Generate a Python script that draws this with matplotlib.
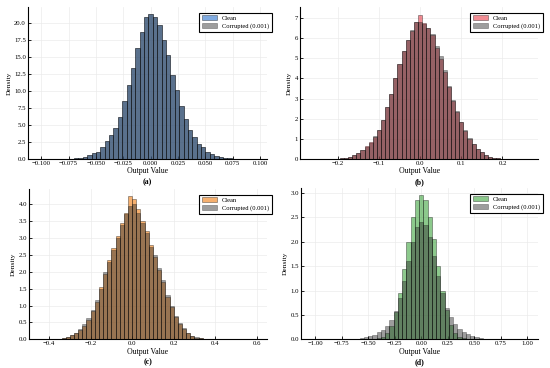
import numpy as np
import matplotlib
matplotlib.use("Agg")
import matplotlib.pyplot as plt

plt.rcParams["font.family"] = ["Liberation Serif", "DejaVu Serif"]

# (a) bins start/width and densities
a_start, a_width = -0.084, 0.004
a_clean = [0.01, 0.02, 0.04, 0.07, 0.12, 0.2, 0.3, 0.55, 0.85, 1.1, 1.8, 2.6, 3.6, 4.6,
           6.2, 8.5, 10.9, 13.4, 16.3, 18.7, 20.9, 21.3, 20.9, 19.8, 17.5, 15.3, 12.4,
           10.1, 7.8, 5.9, 4.2, 3.2, 2.2, 1.7, 1.0, 0.75, 0.45, 0.28, 0.16, 0.09, 0.05,
           0.02, 0.01]
a_corr = [0.01, 0.02, 0.04, 0.07, 0.12, 0.2, 0.3, 0.55, 0.85, 1.1, 1.8, 2.6, 3.6, 4.6,
          6.2, 8.5, 10.9, 13.4, 16.3, 18.7, 20.9, 21.3, 20.9, 19.8, 17.5, 15.3, 12.4,
          10.1, 7.8, 5.9, 4.2, 3.2, 2.2, 1.7, 1.0, 0.75, 0.45, 0.28, 0.16, 0.09, 0.05,
          0.02, 0.01]

# (b)
b_start, b_width = -0.21, 0.01
b_clean = [0.01, 0.02, 0.04, 0.07, 0.12, 0.2, 0.3, 0.45, 0.62, 0.82, 1.1, 1.45, 1.95,
           2.6, 3.25, 4.0, 4.7, 5.35, 5.9, 6.35, 6.8, 7.15, 6.75, 6.5, 6.15, 5.5, 4.95,
           4.3, 3.6, 2.9, 2.35, 1.85, 1.4, 1.0, 0.72, 0.5, 0.33, 0.2, 0.12, 0.07, 0.04,
           0.02, 0.01]
b_corr = [0.01, 0.02, 0.04, 0.07, 0.12, 0.2, 0.3, 0.43, 0.58, 0.78, 1.12, 1.45, 1.95,
          2.6, 3.25, 4.0, 4.7, 5.35, 5.9, 6.4, 6.8, 6.8, 6.7, 6.5, 6.2, 5.6, 5.1,
          4.4, 3.65, 2.95, 2.4, 1.85, 1.42, 1.02, 0.74, 0.5, 0.34, 0.2, 0.12, 0.07, 0.04,
          0.02, 0.01]

# (c)
c_start, c_width = -0.37, 0.02
c_clean = [0.01, 0.02, 0.04, 0.07, 0.12, 0.18, 0.27, 0.4, 0.58, 0.85, 1.1, 1.55, 1.95,
           2.35, 2.7, 3.05, 3.45, 3.75, 4.25, 4.15, 3.85, 3.5, 3.2, 2.8, 2.45, 2.05,
           1.7, 1.25, 0.95, 0.67, 0.45, 0.3, 0.18, 0.1, 0.05, 0.03, 0.01, 0.005]
c_corr = [0.01, 0.02, 0.05, 0.08, 0.13, 0.2, 0.3, 0.45, 0.62, 0.88, 1.15, 1.5, 2.0,
          2.3, 2.65, 3.0, 3.4, 3.7, 3.95, 4.02, 3.75, 3.45, 3.15, 2.75, 2.5, 2.1,
          1.75, 1.3, 1.0, 0.7, 0.48, 0.32, 0.2, 0.11, 0.06, 0.03, 0.015, 0.005]

# (d)
d_start, d_width = -0.60, 0.04
d_clean = [0, 0, 0, 0, 0, 0.02, 0.05, 0.12, 0.28, 0.55, 0.95, 1.45, 2.0, 2.5, 2.85,
           2.95, 2.85, 2.5, 2.05, 1.5, 1.0, 0.6, 0.3, 0.13, 0.05, 0.02, 0, 0, 0, 0, 0]
d_corr = [0.01, 0.02, 0.04, 0.06, 0.09, 0.14, 0.2, 0.28, 0.4, 0.58, 0.85, 1.2, 1.6,
          2.0, 2.3, 2.4, 2.35, 2.1, 1.7, 1.3, 0.95, 0.65, 0.45, 0.32, 0.22, 0.15, 0.1,
          0.06, 0.04, 0.02, 0.01]

panels = [
    dict(start=a_start, width=a_width, clean=a_clean, corr=a_corr, color="#2a72cc",
         xlim=(-0.112, 0.106), ylim=(0, 22.4),
         xticks=[-0.1, -0.075, -0.05, -0.025, 0, 0.025, 0.05, 0.075, 0.1], xfmt="{:.3f}",
         yticks=[0, 2.5, 5, 7.5, 10, 12.5, 15, 17.5, 20], yfmt="{:.1f}",
         pos=[0.051, 0.568, 0.434, 0.413], tag="(a)"),
    dict(start=b_start, width=b_width, clean=b_clean, corr=b_corr, color="#e8404c",
         xlim=(-0.291, 0.286), ylim=(0, 7.55),
         xticks=[-0.2, -0.1, 0, 0.1, 0.2], xfmt="{:.1f}",
         yticks=[0, 1, 2, 3, 4, 5, 6, 7], yfmt="{:.0f}",
         pos=[0.546, 0.568, 0.432, 0.413], tag="(b)"),
    dict(start=c_start, width=c_width, clean=c_clean, corr=c_corr, color="#f07c10",
         xlim=(-0.496, 0.648), ylim=(0, 4.45),
         xticks=[-0.4, -0.2, 0, 0.2, 0.4, 0.6], xfmt="{:.1f}",
         yticks=[0, 0.5, 1, 1.5, 2, 2.5, 3, 3.5, 4], yfmt="{:.1f}",
         pos=[0.053, 0.078, 0.432, 0.408], tag="(c)"),
    dict(start=d_start, width=d_width, clean=d_clean, corr=d_corr, color="#3fa53f",
         xlim=(-1.135, 1.10), ylim=(0, 3.1),
         xticks=[-1, -0.75, -0.5, -0.25, 0, 0.25, 0.5, 0.75, 1], xfmt="{:.2f}",
         yticks=[0, 0.5, 1, 1.5, 2, 2.5, 3], yfmt="{:.1f}",
         pos=[0.547, 0.078, 0.431, 0.411], tag="(d)"),
]

fig = plt.figure(figsize=(5.5, 3.68), dpi=100)

for p in panels:
    ax = fig.add_axes(p["pos"])
    n = len(p["clean"])
    centers = p["start"] + p["width"] * np.arange(n)
    ax.bar(centers, p["clean"], width=p["width"], color=p["color"], alpha=0.6,
           edgecolor="black", linewidth=0.4, label="Clean", zorder=2)
    ax.bar(centers, p["corr"], width=p["width"], color="#333333", alpha=0.48,
           edgecolor="black", linewidth=0.4, label="Corrupted (0.001)", zorder=3)

    ax.set_xlim(p["xlim"])
    ax.set_ylim(p["ylim"])
    ax.set_xticks(p["xticks"])
    ax.set_xticklabels([p["xfmt"].format(v).replace("-", "\u2212") for v in p["xticks"]])
    ax.set_yticks(p["yticks"])
    ax.set_yticklabels([p["yfmt"].format(v) for v in p["yticks"]])
    ax.tick_params(direction="in", length=2, width=0.6, labelsize=4.9, pad=1.5)
    ax.grid(True, color="#ebebeb", linewidth=0.5, zorder=0)
    ax.set_axisbelow(True)
    for s in ["top", "right"]:
        ax.spines[s].set_visible(False)
    for s in ["left", "bottom"]:
        ax.spines[s].set_linewidth(0.8)

    ax.set_ylabel("Density", fontsize=5.4, labelpad=2)
    ax.set_xlabel("Output Value", fontsize=5.6, labelpad=1.0)
    ax.annotate(p["tag"], xy=(0.5, 0), xycoords="axes fraction",
                xytext=(0, -16.5), textcoords="offset points",
                ha="center", va="center", fontsize=5.6, fontweight="bold")

    leg = ax.legend(loc="upper right", bbox_to_anchor=(1.035, 0.985), fontsize=4.7,
                    fancybox=False, framealpha=1, edgecolor="black",
                    handlelength=2.3, handleheight=0.8, borderpad=0.4,
                    labelspacing=0.35, handletextpad=0.8)
    leg.get_frame().set_linewidth(0.8)

fig.savefig("out.png", dpi=100)
